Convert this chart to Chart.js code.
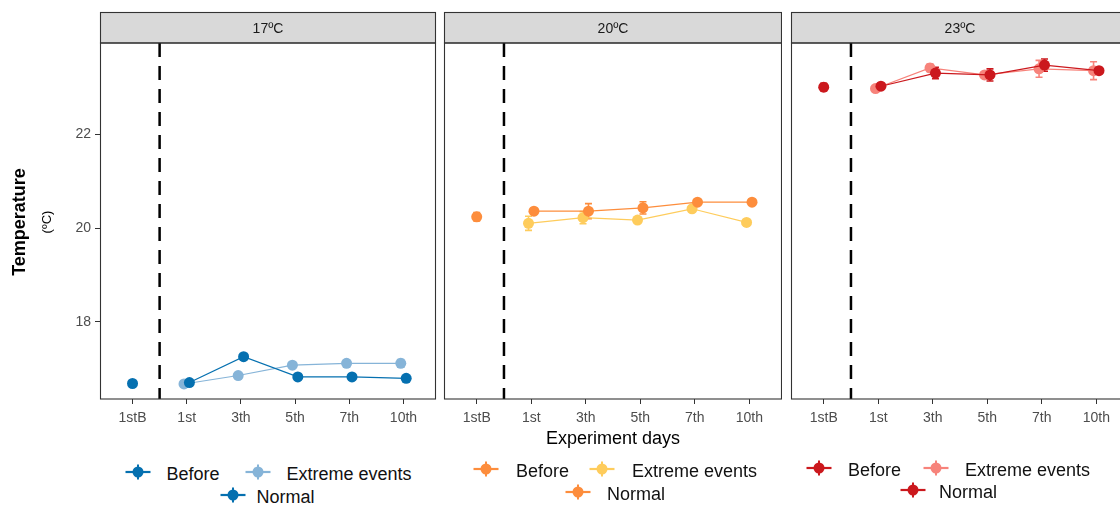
<!DOCTYPE html>
<html>
<head>
<meta charset="utf-8">
<script src="https://cdn.jsdelivr.net/npm/chart.js@4.4.1/dist/chart.umd.min.js"></script>
<style>
  body { margin: 0; width: 1120px; height: 505px; overflow: hidden; background: #fff;
         position: relative; font-family: "Liberation Sans", Arial, sans-serif; }
  canvas.panel { position: absolute; top: 0; }
  .rot { position: absolute; white-space: nowrap; transform: translate(-50%, -50%) rotate(-90deg); color: #000; }
  .xtitle { position: absolute; white-space: nowrap; transform: translate(-50%, -50%); font-size: 18px; color: #000; }
  .key { position: absolute; transform: translate(-50%, -50%); }
  .lab { position: absolute; white-space: nowrap; transform: translateY(-50%); font-size: 18px; color: #111; }
</style>
</head>
<body>
<canvas id="p17" class="panel" width="437" height="430" style="left:0px"></canvas>
<canvas id="p20" class="panel" width="339" height="430" style="left:443px"></canvas>
<canvas id="p23" class="panel" width="339" height="430" style="left:790px"></canvas>

<div class="rot" style="left:19px; top:222px; font-size:18px; font-weight:bold;">Temperature</div>
<div class="rot" style="left:46px; top:222px; font-size:13px;">(ºC)</div>
<div class="xtitle" style="left:613px; top:438px;">Experiment days</div>
<div id="legends"></div>

<script>
// ===== DATA =====
const dayLabels = ['1stB', '1st', '3th', '5th', '7th', '10th'];
const panelTitles = ['17ºC', '20ºC', '23ºC'];
const yTicks = [18, 20, 22];
const seriesNames = ['Before', 'Extreme events', 'Normal'];

// 17 ºC
const before17 = [16.69];
const beforeErr17 = [0.02];
const extreme17 = [16.68, 16.86, 17.08, 17.12, 17.12];
const extremeErr17 = [0.02, 0.02, 0.03, 0.03, 0.08];
const normal17 = [16.71, 17.26, 16.83, 16.83, 16.80];
const normalErr17 = [0.02, 0.03, 0.02, 0.02, 0.02];

// 20 ºC
const before20 = [20.24];
const beforeErr20 = [0.09];
const extreme20 = [20.10, 20.22, 20.17, 20.41, 20.12];
const extremeErr20 = [0.15, 0.13, 0.03, 0.04, 0.03];
const normal20 = [20.36, 20.36, 20.43, 20.55, 20.55];
const normalErr20 = [0.03, 0.16, 0.13, 0.03, 0.03];

// 23 ºC
const before23 = [23.00];
const beforeErr23 = [0.08];
const extreme23 = [22.97, 23.41, 23.26, 23.39, 23.35];
const extremeErr23 = [0.04, 0.08, 0.06, 0.18, 0.19];
const normal23 = [23.02, 23.30, 23.26, 23.47, 23.35];
const normalErr23 = [0.04, 0.12, 0.13, 0.13, 0.05];

// ===== STYLE =====
const Y_MIN = 16.36, Y_MAX = 23.94;
const X_MIN = -0.6, X_MAX = 5.6;
const DODGE = 0.05;
const STRIP_TOP = 12.5;
const FONT = 'Liberation Sans';

const panels = [
  { id: 'p17', title: panelTitles[0], dark: '#0570b0', light: '#86b4d8',
    before: before17, beforeErr: beforeErr17, extreme: extreme17, extremeErr: extremeErr17,
    normal: normal17, normalErr: normalErr17, yAxis: true, pad: { left: 0, right: 1 } },
  { id: 'p20', title: panelTitles[1], dark: '#fd8d3c', light: '#fecc5c',
    before: before20, beforeErr: beforeErr20, extreme: extreme20, extremeErr: extremeErr20,
    normal: normal20, normalErr: normalErr20, yAxis: false, pad: { left: 1, right: 0 } },
  { id: 'p23', title: panelTitles[2], dark: '#cb181d', light: '#f7837b',
    before: before23, beforeErr: beforeErr23, extreme: extreme23, extremeErr: extremeErr23,
    normal: normal23, normalErr: normalErr23, yAxis: false, pad: { left: 1, right: 0 } }
];

// ===== PANEL DECOR: strip, dashed separator, error bars, border =====
const panelDecor = {
  id: 'panelDecor',
  beforeDatasetsDraw(chart, args, opts) {
    const { ctx, chartArea: a } = chart;
    const xs = chart.scales.x, ys = chart.scales.y;
    ctx.save();

    // facet strip
    ctx.fillStyle = '#d9d9d9';
    ctx.fillRect(a.left, STRIP_TOP, a.right - a.left, a.top - STRIP_TOP);
    ctx.strokeStyle = '#333';
    ctx.lineWidth = 1.1;
    ctx.strokeRect(a.left + 0.5, STRIP_TOP, a.right - a.left - 1, a.top - STRIP_TOP);
    ctx.fillStyle = '#1a1a1a';
    ctx.font = '14px "' + FONT + '"';
    ctx.textAlign = 'center';
    ctx.textBaseline = 'middle';
    ctx.fillText(opts.title, (a.left + a.right) / 2, (STRIP_TOP + a.top) / 2 + 1);

    // dashed line between baseline and experiment days
    const xd = xs.getPixelForValue(0.5);
    ctx.strokeStyle = '#000';
    ctx.lineWidth = 2.5;
    ctx.setLineDash([14, 9]);
    ctx.beginPath();
    ctx.moveTo(xd, a.top);
    ctx.lineTo(xd, a.bottom);
    ctx.stroke();
    ctx.setLineDash([]);

    // error bars
    chart.data.datasets.forEach(ds => {
      if (!ds.errors) return;
      ctx.strokeStyle = ds.pointBackgroundColor;
      ctx.lineWidth = 1.6;
      ds.data.forEach((p, j) => {
        const e = ds.errors[j];
        const px = xs.getPixelForValue(p.x);
        const y1 = ys.getPixelForValue(p.y + e);
        const y2 = ys.getPixelForValue(p.y - e);
        ctx.beginPath();
        ctx.moveTo(px, y1); ctx.lineTo(px, y2);
        ctx.moveTo(px - 3.5, y1); ctx.lineTo(px + 3.5, y1);
        ctx.moveTo(px - 3.5, y2); ctx.lineTo(px + 3.5, y2);
        ctx.stroke();
      });
    });
    ctx.restore();
  },
  afterDraw(chart) {
    const { ctx, chartArea: a } = chart;
    ctx.save();
    ctx.strokeStyle = '#333';
    ctx.lineWidth = 1.1;
    ctx.strokeRect(a.left + 0.5, a.top, a.right - a.left - 1, a.bottom - a.top);
    ctx.restore();
  }
};

function makePoints(values, offset, start) {
  return values.map((v, i) => ({ x: start + i + offset, y: v }));
}

function buildChart(p) {
  const datasets = [
    { label: seriesNames[2], data: makePoints(p.normal, DODGE, 1), errors: p.normalErr,
      showLine: true, borderColor: p.dark, borderWidth: 1.2,
      pointBackgroundColor: p.dark, pointBorderWidth: 0, pointRadius: 5.5 },
    { label: seriesNames[1], data: makePoints(p.extreme, -DODGE, 1), errors: p.extremeErr,
      showLine: true, borderColor: p.light, borderWidth: 1.2,
      pointBackgroundColor: p.light, pointBorderWidth: 0, pointRadius: 5.5 },
    { label: seriesNames[0], data: makePoints(p.before, 0, 0), errors: p.beforeErr,
      showLine: false, borderColor: p.dark,
      pointBackgroundColor: p.dark, pointBorderWidth: 0, pointRadius: 5.5 }
  ];

  return new Chart(document.getElementById(p.id), {
    type: 'scatter',
    data: { datasets },
    plugins: [panelDecor],
    options: {
      responsive: false,
      animation: false,
      events: [],
      layout: {
        autoPadding: false,
        padding: { top: 43, bottom: 0, left: p.pad.left, right: p.pad.right }
      },
      plugins: {
        legend: { display: false },
        tooltip: { enabled: false },
        panelDecor: { title: p.title }
      },
      scales: {
        x: {
          type: 'linear',
          min: X_MIN,
          max: X_MAX,
          afterBuildTicks: axis => { axis.ticks = dayLabels.map((_, i) => ({ value: i })); },
          afterFit: scale => {
            scale.height = 31;
            scale.paddingLeft = 0;
            scale.paddingRight = 0;
          },
          border: { display: false },
          grid: { drawOnChartArea: false, drawTicks: true, tickLength: 5, color: '#333', lineWidth: 1 },
          ticks: {
            autoSkip: false,
            maxRotation: 0,
            padding: 6,
            color: '#4d4d4d',
            font: { family: FONT, size: 14 },
            callback: v => dayLabels[v]
          }
        },
        y: {
          display: p.yAxis,
          min: Y_MIN,
          max: Y_MAX,
          afterBuildTicks: axis => { axis.ticks = yTicks.map(v => ({ value: v })); },
          afterFit: scale => {
            scale.width = p.yAxis ? 100 : 0;
            scale.paddingTop = 0;
            scale.paddingBottom = 0;
          },
          border: { display: false },
          grid: { drawOnChartArea: false, drawTicks: true, tickLength: 5, color: '#333', lineWidth: 1 },
          ticks: {
            padding: 4,
            color: '#4d4d4d',
            font: { family: FONT, size: 14 }
          }
        }
      }
    }
  });
}

panels.forEach(buildChart);

// ===== LEGENDS =====
// [panel index, series index, key x, label x, row y]
const legendItems = [
  [0, 0, 137.5, 166.5, 474], [0, 1, 257.5, 286.5, 474], [0, 2, 233, 256.5, 497],
  [1, 0, 486, 516, 471],     [1, 1, 602, 632, 471],     [1, 2, 578, 607, 493.5],
  [2, 0, 819, 848, 470],     [2, 1, 936, 965, 470],     [2, 2, 913, 939, 492]
];

function keySvg(color) {
  return '<svg width="28" height="18" viewBox="0 0 28 18">' +
    '<line x1="1.5" y1="9" x2="26.5" y2="9" stroke="' + color + '" stroke-width="2.2"/>' +
    '<line x1="14" y1="1.5" x2="14" y2="16.5" stroke="' + color + '" stroke-width="2"/>' +
    '<circle cx="14" cy="9" r="5.5" fill="' + color + '"/></svg>';
}

const legendBox = document.getElementById('legends');
legendItems.forEach(([pi, si, kx, lx, y]) => {
  const color = si === 1 ? panels[pi].light : panels[pi].dark;
  const key = document.createElement('div');
  key.className = 'key';
  key.style.left = kx + 'px';
  key.style.top = y + 'px';
  key.innerHTML = keySvg(color);
  legendBox.appendChild(key);
  const lab = document.createElement('div');
  lab.className = 'lab';
  lab.style.left = lx + 'px';
  lab.style.top = y + 'px';
  lab.textContent = seriesNames[si];
  legendBox.appendChild(lab);
});
</script>
</body>
</html>
